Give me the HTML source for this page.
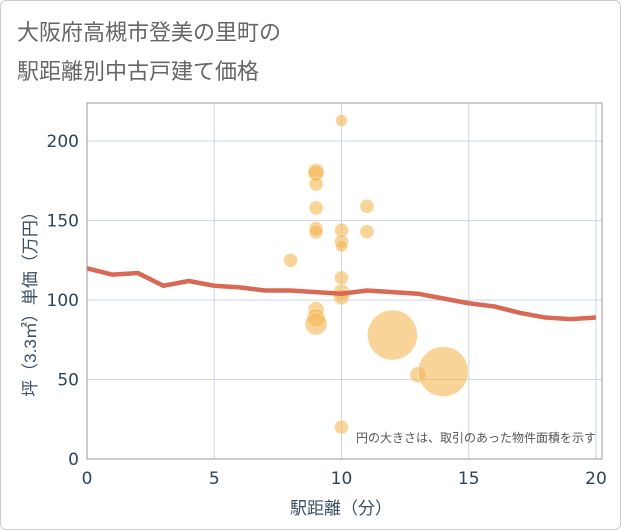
<!DOCTYPE html>
<html><head><meta charset="utf-8"><style>
body{margin:0;background:#fff;font-family:"Liberation Sans","Noto Sans CJK JP",sans-serif}
#wrap{position:relative;width:619px;height:528px;border:1px solid #ccc;border-radius:6px;overflow:hidden}
</style></head><body>
<div id="wrap">
<svg id="chart" width="621" height="530" style="position:absolute;left:-1px;top:-1px">
<text x="17" y="40" font-size="22" fill="#666">大阪府高槻市登美の里町の</text>
<text x="17" y="79" font-size="22" fill="#666">駅距離別中古戸建て価格</text>
<g id="grid"></g><g id="marks"></g><g id="axes"></g>
<text x="596" y="442" font-size="12" fill="#555" text-anchor="end">円の大きさは、取引のあった物件面積を示す</text>
<text x="341" y="514" font-size="17" fill="#3d4f63" text-anchor="middle">駅距離（分）</text>
<text transform="translate(36,300) rotate(-90)" font-size="17" fill="#3d4f63" text-anchor="middle">坪（3.3㎡）単価（万円）</text>
</svg>
</div>
<script>
const xTicks=[0,5,10,15,20];
const yTicks=[0,50,100,150,200];
const ptX=[10,9,9,9,9,9,9,10,10,10,11,11,8,10,10,10,9,9,9,12,13,14,10];
const ptY=[213,181,180,173,158,145,143,144,137,134,159,143,125,114,105,102,94,89,85,78,53,55,20];
const ptR=[6,8,8,7,7,7,7,7,7,6,7,7,7,7,8,8,8,9,11,25,8,25,7];
const lineX=[0,1,2,3,4,5,6,7,8,9,10,11,12,13,14,15,16,17,18,19,20];
const lineY=[120,116,117,109,112,109,108,106,106,105,104,106,105,104,101,98,96,92,89,88,89];
const L=87,R=596,T=103,B=459;
const sx=v=>L+(v-0)/20*(R-L);
const sy=v=>B-v/224*(B-T);
const NS="http://www.w3.org/2000/svg";
function mk(tag,parent,attrs){const e=document.createElementNS(NS,tag);for(const k in attrs)e.setAttribute(k,attrs[k]);parent.appendChild(e);return e;}
const g=document.getElementById('grid'),m=document.getElementById('marks'),a=document.getElementById('axes');
xTicks.forEach(t=>{
 const l=mk('line',g,{x1:sx(t),x2:sx(t),y1:T,y2:B,stroke:'#c9d6e3','stroke-width':1});
 
 
 const tx=mk('text',a,{x:sx(t),y:B+25,'font-size':17,fill:'#2f4459','text-anchor':'middle','font-family':'DejaVu Sans, sans-serif'});tx.textContent=t;
 
 
});
yTicks.forEach(t=>{
 const l=mk('line',g,{x1:L,x2:R+6,y1:sy(t),y2:sy(t),stroke:'#c9d6e3','stroke-width':1});
 
 
 const tx=mk('text',a,{x:L-8,y:sy(t)+6,'font-size':17,fill:'#2f4459','text-anchor':'end','font-family':'DejaVu Sans, sans-serif'});tx.textContent=t;
 
 
});
const fr=mk('rect',a,{x:L,y:T,width:R+6-L,height:B-T,fill:'none',stroke:'#999','stroke-width':1});


ptX.forEach((x,i)=>{
 const c=mk('circle',m,{cx:sx(x),cy:sy(ptY[i]),r:ptR[i],fill:'#f3b754','fill-opacity':0.6,stroke:'#fff','stroke-opacity':0.4});
 
 
});
const p=mk('polyline',m,{points:lineX.map((x,i)=>sx(x)+','+sy(lineY[i])).join(' '),fill:'none',stroke:'#d86a55','stroke-width':4.5,'stroke-linejoin':'round'});


</script>
</body></html>
